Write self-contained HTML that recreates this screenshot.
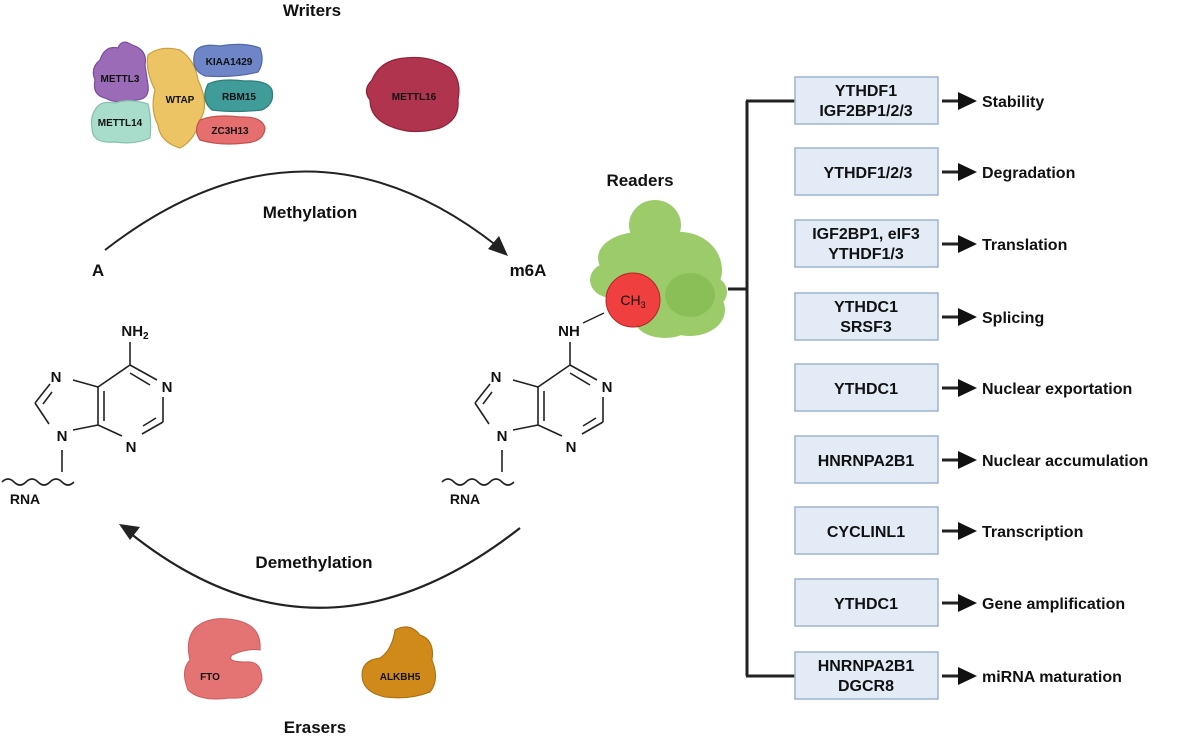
<!DOCTYPE html>
<html><head><meta charset="utf-8"><style>
html,body{margin:0;padding:0;background:#fff;}
svg{display:block;font-family:"Liberation Sans",sans-serif;}
</style></head><body>
<svg width="1182" height="736" viewBox="0 0 1182 736" xmlns="http://www.w3.org/2000/svg">
<!-- titles -->
<g font-weight="bold" fill="#111">
<text x="312" y="16" font-size="17" text-anchor="middle">Writers</text>
<text x="640" y="186" font-size="17" text-anchor="middle">Readers</text>
<text x="315" y="733" font-size="17" text-anchor="middle">Erasers</text>
<text x="310" y="218" font-size="17" text-anchor="middle">Methylation</text>
<text x="314" y="568" font-size="17" text-anchor="middle">Demethylation</text>
<text x="98" y="276" font-size="17" text-anchor="middle">A</text>
<text x="528" y="276" font-size="17" text-anchor="middle">m6A</text>
</g>

<!-- writers -->
<g stroke-width="1.2">
<path d="M100,60 Q105,45 118,48 Q122,38 132,45 Q148,50 145,65 L148,85 Q150,100 135,100 Q118,105 105,98 Q92,95 95,80 Q90,68 100,60Z" fill="#9b6bb8" stroke="#7c4f99"/>
<path d="M95,110 Q100,100 115,103 Q130,98 148,104 Q152,120 150,138 Q135,145 115,142 Q92,144 92,128 Q90,118 95,110Z" fill="#a8dccb" stroke="#86c0ae"/>
<path d="M148,55 Q160,45 180,50 Q195,60 198,80 Q210,105 200,120 Q195,140 180,148 Q160,142 158,125 Q150,110 155,90 Q145,70 148,55Z" fill="#ecc464" stroke="#c79f3e"/>
<path d="M195,52 Q200,43 220,46 Q245,42 260,48 Q265,62 258,72 Q235,78 205,76 Q190,70 195,52Z" fill="#6e86c8" stroke="#5069a8"/>
<path d="M208,84 Q220,78 245,81 Q268,80 272,90 Q275,104 262,110 Q235,113 212,110 Q200,100 208,84Z" fill="#3f9c98" stroke="#2e7d7a"/>
<path d="M200,120 Q215,114 240,117 Q262,116 265,128 Q264,142 245,143 Q220,146 200,140 Q193,130 200,120Z" fill="#e56e6e" stroke="#c55050"/>
<path d="M372,80 Q380,60 405,58 Q430,55 450,68 Q462,80 458,100 Q460,120 440,128 Q415,135 395,128 Q370,120 370,100 Q362,90 372,80Z" fill="#b1344f" stroke="#8f2238"/>
</g>
<g font-weight="bold" font-size="10" fill="#111" text-anchor="middle">
<text x="120" y="82">METTL3</text>
<text x="120" y="126">METTL14</text>
<text x="180" y="103">WTAP</text>
<text x="229" y="65">KIAA1429</text>
<text x="239" y="100">RBM15</text>
<text x="230" y="134">ZC3H13</text>
<text x="414" y="100">METTL16</text>
</g>

<!-- arcs -->
<path d="M105,250 Q305,95 497,246" fill="none" stroke="#222" stroke-width="2"/>
<polygon points="508,256 488,249 499,236" fill="#222"/>
<path d="M520,528 Q320,685 130,533" fill="none" stroke="#222" stroke-width="2.2"/>
<polygon points="119,524 140,527 130,540" fill="#222"/>

<!-- adenine right (absolute) -->
<g id="ad" stroke="#222" stroke-width="1.6" fill="none">
<line x1="570" y1="342" x2="570" y2="365"/>
<line x1="570" y1="365" x2="597" y2="380"/>
<line x1="570" y1="373" x2="590" y2="385"/>
<line x1="603" y1="397" x2="603" y2="422"/>
<line x1="603" y1="422" x2="582" y2="434"/>
<line x1="596" y1="418" x2="583" y2="426"/>
<line x1="562" y1="436" x2="538" y2="425"/>
<line x1="538" y1="387" x2="538" y2="425"/>
<line x1="544" y1="391" x2="544" y2="421"/>
<line x1="538" y1="387" x2="570" y2="365"/>
<line x1="538" y1="387" x2="513" y2="380"/>
<line x1="490" y1="384" x2="475" y2="403"/>
<line x1="492" y1="392" x2="483" y2="404"/>
<line x1="475" y1="403" x2="489" y2="424"/>
<line x1="513" y1="430" x2="538" y2="425"/>
<line x1="502" y1="450" x2="502" y2="472"/>
<path d="M442,482 q6,-6 12,0 q6,6 12,0 q6,-6 12,0 q6,6 12,0 q6,-6 12,0 q6,6 12,0"/>
</g>
<use href="#ad" x="-440" y="0"/>
<g font-weight="bold" font-size="15" fill="#111" text-anchor="middle">
<text x="569" y="336">NH</text>
<text x="607" y="392">N</text><text x="571" y="452">N</text>
<text x="502" y="441">N</text><text x="496" y="382">N</text>
<text x="465" y="504" font-size="14">RNA</text>
<text x="135" y="336">NH<tspan font-size="10" dy="3">2</tspan></text>
<text x="167" y="392">N</text><text x="131" y="452">N</text>
<text x="62" y="441">N</text><text x="56" y="382">N</text>
<text x="25" y="504" font-size="14">RNA</text>
</g>

<!-- reader blob -->
<g fill="#9ccc6a">
<ellipse cx="655" cy="225" rx="26" ry="25"/>
<ellipse cx="640" cy="258" rx="42" ry="26"/>
<ellipse cx="680" cy="270" rx="42" ry="38"/>
<ellipse cx="690" cy="310" rx="35" ry="26"/>
<ellipse cx="612" cy="280" rx="22" ry="18"/>
<ellipse cx="665" cy="320" rx="30" ry="18"/>
<ellipse cx="712" cy="292" rx="15" ry="15"/>
</g>
<ellipse cx="690" cy="295" rx="25" ry="22" fill="#8abf58"/>
<line x1="583" y1="323" x2="604" y2="313" stroke="#222" stroke-width="1.4"/>
<circle cx="633" cy="300" r="27" fill="#ef3f3f" stroke="#b02828" stroke-width="1"/>
<text x="633" y="305" font-size="14" text-anchor="middle" fill="#111">CH<tspan font-size="9" dy="3">3</tspan></text>

<!-- erasers -->
<path d="M195,628 Q210,615 235,620 Q262,625 260,650 Q248,648 232,655 Q226,662 245,662 Q262,660 262,680 Q255,700 230,698 Q200,702 188,690 Q180,670 190,660 Q185,640 195,628Z" fill="#e47474" stroke="#cf5c5c"/>
<path d="M395,630 Q410,622 420,635 Q435,640 432,660 Q440,680 430,692 Q410,700 385,697 Q362,692 362,675 Q362,660 380,658 Q392,650 395,630Z" fill="#cf8a1a" stroke="#a86d0c"/>
<g font-weight="bold" font-size="10" fill="#111" text-anchor="middle">
<text x="210" y="680">FTO</text><text x="400" y="680">ALKBH5</text>
</g>

<!-- readers tree -->
<g stroke="#222" stroke-width="3" fill="none">
<line x1="747" y1="101" x2="747" y2="676"/>
<line x1="746" y1="101" x2="795" y2="101"/>
<line x1="746" y1="676" x2="795" y2="676"/>
<line x1="728" y1="289" x2="748" y2="289"/>
</g>
<g font-weight="bold" font-size="16" fill="#111">
<g transform="translate(0,101)"><rect x="795" y="-24" width="143" height="47" fill="#e3ecf6" stroke="#9fb4cc" stroke-width="1.5"/><text x="866" y="-5" text-anchor="middle">YTHDF1</text><text x="866" y="15" text-anchor="middle">IGF2BP1/2/3</text></g>
<g transform="translate(0,172)"><rect x="795" y="-24" width="143" height="47" fill="#e3ecf6" stroke="#9fb4cc" stroke-width="1.5"/><text x="868" y="6" text-anchor="middle">YTHDF1/2/3</text></g>
<g transform="translate(0,244)"><rect x="795" y="-24" width="143" height="47" fill="#e3ecf6" stroke="#9fb4cc" stroke-width="1.5"/><text x="866" y="-5" text-anchor="middle">IGF2BP1, eIF3</text><text x="866" y="15" text-anchor="middle">YTHDF1/3</text></g>
<g transform="translate(0,317)"><rect x="795" y="-24" width="143" height="47" fill="#e3ecf6" stroke="#9fb4cc" stroke-width="1.5"/><text x="866" y="-5" text-anchor="middle">YTHDC1</text><text x="866" y="15" text-anchor="middle">SRSF3</text></g>
<g transform="translate(0,388)"><rect x="795" y="-24" width="143" height="47" fill="#e3ecf6" stroke="#9fb4cc" stroke-width="1.5"/><text x="866" y="6" text-anchor="middle">YTHDC1</text></g>
<g transform="translate(0,460)"><rect x="795" y="-24" width="143" height="47" fill="#e3ecf6" stroke="#9fb4cc" stroke-width="1.5"/><text x="866" y="6" text-anchor="middle">HNRNPA2B1</text></g>
<g transform="translate(0,531)"><rect x="795" y="-24" width="143" height="47" fill="#e3ecf6" stroke="#9fb4cc" stroke-width="1.5"/><text x="866" y="6" text-anchor="middle">CYCLINL1</text></g>
<g transform="translate(0,603)"><rect x="795" y="-24" width="143" height="47" fill="#e3ecf6" stroke="#9fb4cc" stroke-width="1.5"/><text x="866" y="6" text-anchor="middle">YTHDC1</text></g>
<g transform="translate(0,676)"><rect x="795" y="-24" width="143" height="47" fill="#e3ecf6" stroke="#9fb4cc" stroke-width="1.5"/><text x="866" y="-5" text-anchor="middle">HNRNPA2B1</text><text x="866" y="15" text-anchor="middle">DGCR8</text></g>
</g>
<g font-weight="bold" font-size="16" fill="#111">
<g transform="translate(0,101)"><line x1="942" y1="0" x2="962" y2="0" stroke="#222" stroke-width="3"/><polygon points="958,-9 977,0 958,9"/><text x="982" y="6">Stability</text></g>
<g transform="translate(0,172)"><line x1="942" y1="0" x2="962" y2="0" stroke="#222" stroke-width="3"/><polygon points="958,-9 977,0 958,9"/><text x="982" y="6">Degradation</text></g>
<g transform="translate(0,244)"><line x1="942" y1="0" x2="962" y2="0" stroke="#222" stroke-width="3"/><polygon points="958,-9 977,0 958,9"/><text x="982" y="6">Translation</text></g>
<g transform="translate(0,317)"><line x1="942" y1="0" x2="962" y2="0" stroke="#222" stroke-width="3"/><polygon points="958,-9 977,0 958,9"/><text x="982" y="6">Splicing</text></g>
<g transform="translate(0,388)"><line x1="942" y1="0" x2="962" y2="0" stroke="#222" stroke-width="3"/><polygon points="958,-9 977,0 958,9"/><text x="982" y="6">Nuclear exportation</text></g>
<g transform="translate(0,460)"><line x1="942" y1="0" x2="962" y2="0" stroke="#222" stroke-width="3"/><polygon points="958,-9 977,0 958,9"/><text x="982" y="6">Nuclear accumulation</text></g>
<g transform="translate(0,531)"><line x1="942" y1="0" x2="962" y2="0" stroke="#222" stroke-width="3"/><polygon points="958,-9 977,0 958,9"/><text x="982" y="6">Transcription</text></g>
<g transform="translate(0,603)"><line x1="942" y1="0" x2="962" y2="0" stroke="#222" stroke-width="3"/><polygon points="958,-9 977,0 958,9"/><text x="982" y="6">Gene amplification</text></g>
<g transform="translate(0,676)"><line x1="942" y1="0" x2="962" y2="0" stroke="#222" stroke-width="3"/><polygon points="958,-9 977,0 958,9"/><text x="982" y="6">miRNA maturation</text></g>
</g>
</svg>
</body></html>
